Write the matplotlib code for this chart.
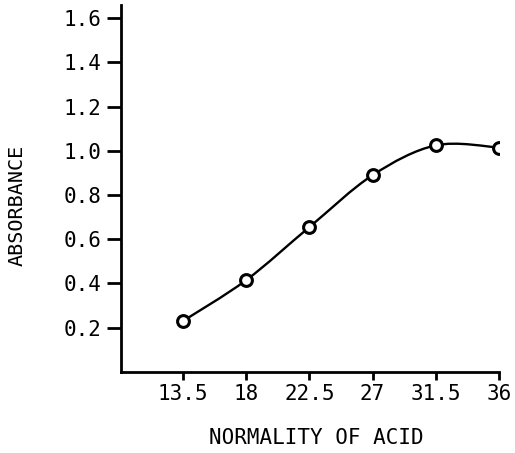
import numpy as np
import matplotlib
matplotlib.use("Agg")
import matplotlib.pyplot as plt
from matplotlib.path import Path
from matplotlib.patches import PathPatch

# data
normality = [13.5, 18, 22.5, 27, 31.5, 36]
absorbance = [0.23, 0.415, 0.655, 0.89, 1.025, 1.015]
x_ticks = [13.5, 18, 22.5, 27, 31.5, 36]
x_tick_labels = ["13.5", "18", "22.5", "27", "31.5", "36"]
y_ticks = [0.2, 0.4, 0.6, 0.8, 1.0, 1.2, 1.4, 1.6]

plt.rcParams['font.family'] = ['DejaVu Sans Mono']

fig = plt.figure(figsize=(5.15, 4.53), dpi=100)
ax = fig.add_axes([0.235, 0.179, 0.734, 0.81])


def smooth_path(xs, ys):
    # Catmull-Rom through the points, turned into cubic Bezier segments
    pts = np.column_stack([xs, ys]).astype(float)
    n = len(pts)
    verts = [pts[0]]
    codes = [Path.MOVETO]
    for i in range(n - 1):
        p0 = pts[i - 1] if i > 0 else pts[i]
        p1 = pts[i]
        p2 = pts[i + 1]
        p3 = pts[i + 2] if i + 2 < n else pts[i + 1]
        c1 = p1 + (p2 - p0) / 6.0
        c2 = p2 - (p3 - p1) / 6.0
        verts += [c1, c2, p2]
        codes += [Path.CURVE4] * 3
    return Path(verts, codes)


curve = PathPatch(smooth_path(normality, absorbance), facecolor='none',
                  edgecolor='black', lw=1.7, zorder=2)
ax.add_patch(curve)
ax.plot(normality, absorbance, linestyle='none', marker='o', markersize=8.5,
        markerfacecolor='white', markeredgecolor='black', markeredgewidth=2.2,
        zorder=3)

ax.set_xlim(9.1, 36)
ax.set_ylim(0, 1.66)
ax.set_xticks(x_ticks)
ax.set_xticklabels(x_tick_labels)
ax.set_yticks(y_ticks)
ax.set_yticklabels([f"{v:.1f}" for v in y_ticks])

for side in ['top', 'right']:
    ax.spines[side].set_visible(False)
for side in ['left', 'bottom']:
    ax.spines[side].set_linewidth(2.0)

ax.tick_params(axis='y', direction='out', length=10, width=2.0, pad=4,
               labelsize=15)
ax.tick_params(axis='x', direction='out', length=6, width=2.0, pad=3,
               labelsize=15)

ax.set_xlabel("NORMALITY OF ACID", fontsize=15, va='center')
ax.xaxis.set_label_coords(0.516, -0.18)
ax.set_ylabel("ABSORBANCE", fontsize=14.5, va='center')
ax.yaxis.set_label_coords(-0.275, 0.455)

fig.savefig("out.png", dpi=100)
